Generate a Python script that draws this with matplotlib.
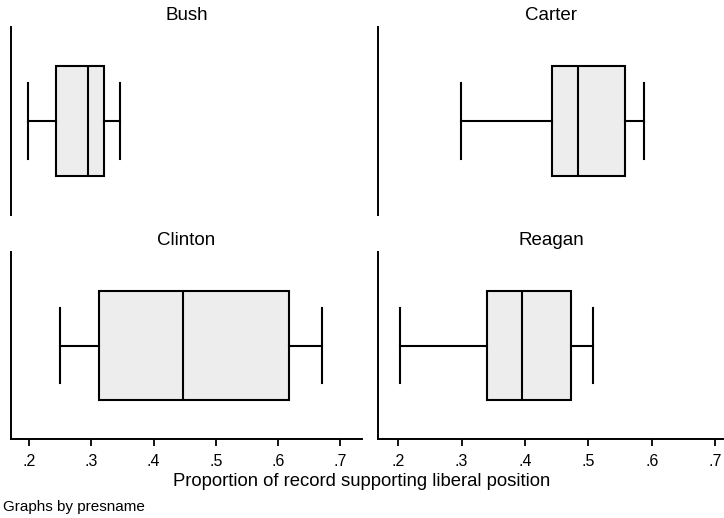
import matplotlib
matplotlib.use("Agg")
import matplotlib.pyplot as plt

plt.rcParams['font.family'] = ['Liberation Sans', 'DejaVu Sans']

# box plot summaries, one entry per president
presidents = ["Bush", "Carter", "Clinton", "Reagan"]
whisk_lo = [0.198, 0.299, 0.250, 0.203]
q1 = [0.243, 0.443, 0.313, 0.340]
median = [0.294, 0.483, 0.448, 0.395]
q3 = [0.320, 0.558, 0.617, 0.473]
whisk_hi = [0.346, 0.588, 0.671, 0.507]
ticks = [0.2, 0.3, 0.4, 0.5, 0.6, 0.7]
tick_labels = [".2", ".3", ".4", ".5", ".6", ".7"]

W, H = 724, 518
fig = plt.figure(figsize=(W / 100, H / 100), dpi=100)

# panel boxes in pixels: left, top, right, bottom
panels = [(11, 27, 362, 215), (378, 27, 724, 215),
          (11, 252, 362, 439), (378, 252, 724, 439)]
xlims = [(0.171, 0.735), (0.168, 0.714), (0.171, 0.735), (0.168, 0.714)]

line = dict(color='black', linewidth=1.5)
for i, name in enumerate(presidents):
    l, t, r, b = panels[i]
    ax = fig.add_axes([l / W, 1 - b / H, (r - l) / W, (b - t) / H])
    stats = [dict(whislo=whisk_lo[i], q1=q1[i], med=median[i], q3=q3[i],
                  whishi=whisk_hi[i], fliers=[])]
    ax.bxp(stats, positions=[1], widths=1.16, capwidths=0.80,
           orientation='horizontal', patch_artist=True, showfliers=False,
           boxprops=dict(facecolor='#ededed', edgecolor='black', linewidth=1.5),
           medianprops=line, whiskerprops=line, capprops=line)
    ax.set_ylim(0, 2)
    ax.set_xlim(*xlims[i])
    ax.set_yticks([])
    ax.set_title(name, fontsize=13.5, pad=5)
    for s in ['top', 'right']:
        ax.spines[s].set_visible(False)
    ax.spines['left'].set_linewidth(1.4)
    if i < 2:
        ax.spines['bottom'].set_visible(False)
        ax.set_xticks([])
    else:
        ax.spines['bottom'].set_linewidth(1.4)
        ax.set_xticks(ticks)
        ax.set_xticklabels(tick_labels, fontsize=11.5)
        ax.tick_params(axis='x', length=5, width=1.3, pad=6)

fig.text(362 / W, 1 - 482 / H, "Proportion of record supporting liberal position",
         ha='center', va='center', fontsize=13.3)
fig.text(3 / W, 1 - 507 / H, "Graphs by presname", ha='left', va='center',
         fontsize=11)

fig.savefig("out.png", dpi=100)
